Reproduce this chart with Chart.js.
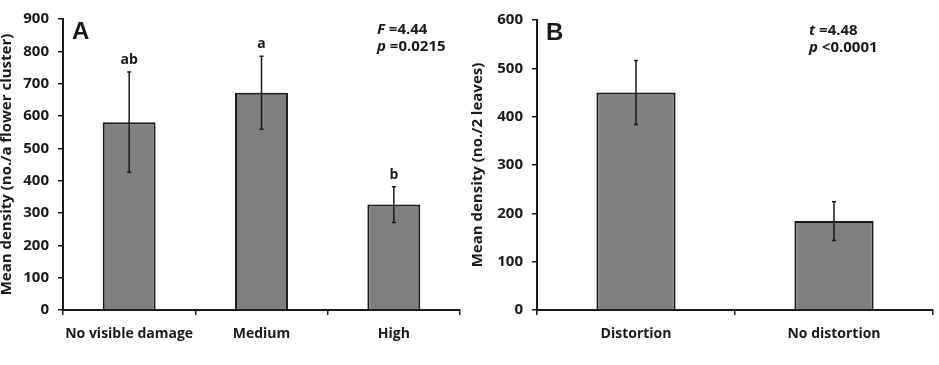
<!DOCTYPE html>
<html>
<head>
<meta charset="utf-8">
<script src="https://cdn.jsdelivr.net/npm/chart.js@4.4.0/dist/chart.umd.min.js"></script>
<style>
  body { margin: 0; background: #fff; width: 939px; height: 365px; overflow: hidden; position: relative; }
  .box { position: absolute; top: 0; height: 365px; }
  #boxA { left: 0; width: 470px; }
  #boxB { left: 460px; width: 479px; }
</style>
</head>
<body>
<div class="box" id="boxA"><canvas id="chartA"></canvas></div>
<div class="box" id="boxB"><canvas id="chartB"></canvas></div>
<script>
// panel A - flower clusters
const groupsA = ['No visible damage', 'Medium', 'High'];
const meanA = [581, 672, 326];
const seA = [155, 113, 55];
const lettersA = ['ab', 'a', 'b'];
const maxA = 900;

// panel B - leaves
const groupsB = ['Distortion', 'No distortion'];
const meanB = [450, 184];
const seB = [66, 40];
const maxB = 600;

const tickStep = 100;
const ink = '#1a1a1a';

Chart.defaults.font.family = "'Open Sans', sans-serif";
Chart.defaults.font.weight = 'bold';
Chart.defaults.font.size = 14;
Chart.defaults.color = ink;

// error bars + letters above
const errorBars = {
  id: 'errorBars',
  afterDatasetsDraw(chart, args, opts) {
    const ctx = chart.ctx;
    const y = chart.scales.y;
    const meta = chart.getDatasetMeta(0);
    ctx.save();
    ctx.strokeStyle = ink;
    ctx.lineWidth = 1.5;
    opts.mean.forEach((m, i) => {
      const x = meta.data[i].x;
      const top = y.getPixelForValue(m + opts.se[i]);
      const bot = y.getPixelForValue(m - opts.se[i]);
      ctx.beginPath();
      ctx.moveTo(x, top); ctx.lineTo(x, bot);
      ctx.moveTo(x - 2, top); ctx.lineTo(x + 2, top);
      ctx.moveTo(x - 2, bot); ctx.lineTo(x + 2, bot);
      ctx.stroke();
      if (opts.letters) {
        ctx.fillStyle = ink;
        ctx.font = "bold 14px 'Open Sans', sans-serif";
        ctx.textAlign = 'center';
        ctx.textBaseline = 'middle';
        ctx.fillText(opts.letters[i], x, top - 12);
      }
    });
    ctx.restore();
  }
};

// panel letter and test statistic
const panelText = {
  id: 'panelText',
  afterDraw(chart, args, opts) {
    const ctx = chart.ctx;
    const a = chart.chartArea;
    ctx.save();
    ctx.fillStyle = ink;
    ctx.textAlign = 'left';
    ctx.textBaseline = 'alphabetic';
    ctx.font = "bold 24px 'Liberation Sans', Arial, sans-serif";
    ctx.fillText(opts.panel, a.left + 9, a.top + 20);
    const sx = a.right - opts.statRight;
    opts.stats.forEach((s, i) => {
      const yy = a.top + 15 + i * 17;
      ctx.font = "italic bold 15px 'Open Sans', sans-serif";
      ctx.fillText(s[0], sx, yy);
      const w = ctx.measureText(s[0]).width;
      ctx.font = "bold 15px 'Open Sans', sans-serif";
      ctx.fillText(s[1], sx + w, yy);
    });
    ctx.restore();
  }
};

function makeChart(id, labels, mean, se, letters, max, title, titlePad, yWidth, pad, panel, stats, statRight) {
  return new Chart(document.getElementById(id), {
    type: 'bar',
    data: {
      labels: labels,
      datasets: [{
        data: mean,
        backgroundColor: '#808080',
        borderColor: ink,
        borderWidth: 2,
        categoryPercentage: 0.4,
        barPercentage: 1
      }]
    },
    options: {
      responsive: true,
      maintainAspectRatio: false,
      animation: false,
      layout: { padding: pad },
      plugins: {
        legend: { display: false },
        tooltip: { enabled: false },
        errorBars: { mean: mean, se: se, letters: letters },
        panelText: { panel: panel, stats: stats, statRight: statRight }
      },
      scales: {
        x: {
          grid: { drawOnChartArea: false, color: ink, lineWidth: 1.5, tickLength: 5, offset: true },
          border: { color: ink, width: 2 },
          ticks: { maxRotation: 0, autoSkip: false, padding: 11 },
          afterFit(s) { s.height = 55; }
        },
        y: {
          min: 0, max: max,
          grid: { drawOnChartArea: false, color: ink, lineWidth: 1.5, tickLength: 5 },
          border: { color: ink, width: 2 },
          ticks: { stepSize: tickStep, padding: 9, font: { size: 15 } },
          title: { display: true, text: title, font: { size: 15, weight: 'bold' }, padding: { top: titlePad, bottom: 0 } },
          afterFit(s) { s.width = yWidth; }
        }
      }
    },
    plugins: [errorBars, panelText]
  });
}

makeChart('chartA', groupsA, meanA, seA, lettersA, maxA,
  'Mean density (no./a flower cluster)', -2, 63, { top: 19, right: 10, left: 0, bottom: 0 },
  'A', [['F', ' =4.44'], ['p', ' =0.0215']], 83);

makeChart('chartB', groupsB, meanB, seB, null, maxB,
  'Mean density (no./2 leaves)', 9, 77, { top: 20, right: 6, left: 0, bottom: 0 },
  'B', [['t', ' =4.48'], ['p', ' <0.0001']], 124);
</script>
</body>
</html>
